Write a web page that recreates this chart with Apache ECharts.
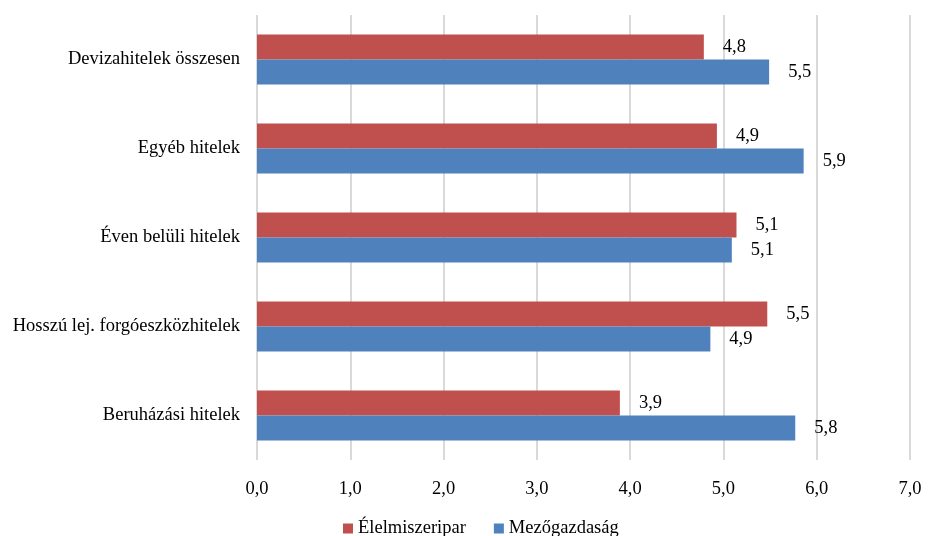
<!DOCTYPE html>
<html><head><meta charset="utf-8">
<script src="https://cdn.jsdelivr.net/npm/echarts@6/dist/echarts.min.js"></script>
<style>html,body{margin:0;padding:0;background:#fff}#c{width:928px;height:536px}</style>
</head><body><div id="c"></div>
<script>
var categories = ['Beruházási hitelek','Hosszú lej. forgóeszközhitelek','Éven belüli hitelek','Egyéb hitelek','Devizahitelek összesen'];
var elelmiszeripar = [3.89, 5.47, 5.14, 4.93, 4.79];
var mezogazdasag = [5.77, 4.86, 5.09, 5.86, 5.49];
var seriesNames = ['Élelmiszeripar','Mezőgazdaság'];
var FONT = '"Liberation Serif","Times New Roman",serif';
var FS = 18.5;
function fmt(v){ return v.toFixed(1).replace('.',','); }
var chart = echarts.init(document.getElementById('c'));
var lbl = {show:true, position:'right', distance:19, fontFamily:FONT, fontSize:FS, color:'#000',
  formatter:function(p){return fmt(p.value);}};
chart.setOption({
  animation:false,
  textStyle:{fontFamily:FONT},
  grid:{left:257, right:18, top:15, bottom:76},
  legend:{bottom:-7, left:338, itemWidth:10, itemHeight:10, itemGap:28, icon:'rect',
    textStyle:{fontFamily:FONT, fontSize:FS, color:'#000'}, data:seriesNames},
  xAxis:{type:'value', min:0, max:7, interval:1,
    axisLine:{show:false}, axisTick:{show:false},
    splitLine:{lineStyle:{color:'#d9d9d9', width:2}},
    axisLabel:{fontFamily:FONT, fontSize:FS, color:'#000', margin:20, formatter:function(v){return fmt(v);}}},
  yAxis:{type:'category', data:categories,
    axisLine:{show:false}, axisTick:{show:false},
    axisLabel:{fontFamily:FONT, fontSize:FS, color:'#000', margin:17}},
  series:[
    {name:seriesNames[0], type:'bar', data:elelmiszeripar, barGap:'0%', barCategoryGap:'44%',
      itemStyle:{color:'#C0504D'}, label:lbl},
    {name:seriesNames[1], type:'bar', data:mezogazdasag, barGap:'0%', barCategoryGap:'44%',
      itemStyle:{color:'#4F81BD'}, label:lbl}
  ]
});
</script></body></html>
